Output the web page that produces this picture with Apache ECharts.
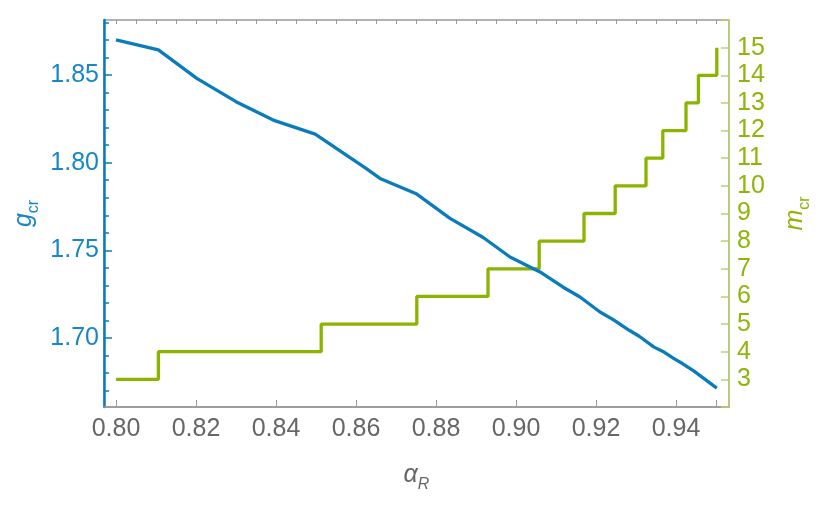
<!DOCTYPE html>
<html>
<head>
<meta charset="utf-8">
<script src="https://cdn.jsdelivr.net/npm/echarts@6/dist/echarts.min.js"></script>
<style>
  html, body { margin: 0; padding: 0; background: #fff; }
  #chart { width: 834px; height: 511px; }
</style>
</head>
<body>
<div id="chart"></div>
<script>
// g_cr curve (left axis)
const alphaG = [0.800, 0.8106, 0.8202, 0.830, 0.8393, 0.8498, 0.8625, 0.866, 0.8752, 0.8835, 0.8918,
  0.8985, 0.906, 0.9117, 0.916, 0.921, 0.9243, 0.9283, 0.9308, 0.9345, 0.937, 0.9395, 0.9417, 0.9445, 0.9502];
const gValues = [1.870, 1.8643, 1.8481, 1.8348, 1.8243, 1.8163, 1.7967, 1.791, 1.7821, 1.7682, 1.7573,
  1.7462, 1.7377, 1.7291, 1.7234, 1.7148, 1.7105, 1.7044, 1.701, 1.6948, 1.692, 1.6882, 1.6853, 1.6811, 1.6714];

// m_cr steps (right axis): alpha where m jumps up to the value
const alphaSteps = [0.800, 0.8106, 0.8513, 0.8752, 0.893, 0.9058, 0.917, 0.9248, 0.9325, 0.9367, 0.9425, 0.9456, 0.9502];
const mValues = [3, 4, 5, 6, 7, 8, 9, 10, 11, 12, 13, 14, 15];

// tick ranges
const xTickRange = [0.80, 0.95];
const gMajorRange = [1.70, 1.85];
const gMinorRange = [1.67, 1.88];
const mRange = [2, 16];

const BLUE = '#0a7cbb';
const BLUE_TXT = '#1787c6';
const GREEN = '#8ab400';
const GREEN_TXT = '#8fb40a';
const GREEN_AXIS = '#b9d26c';
const GRAY = '#999';
const FONT = 'Liberation Sans';
const W = 834, H = 511;

// frame in px, and px per unit of each scale
const FL = 104, FR = 729, FT = 20, FB = 407;
const X0 = 116, XPX = 4000;            // alpha 0.80 at X0
const G0 = 75, GPX = 263 / 0.15;       // g 1.85 at G0
const px = a => X0 + (a - 0.80) * XPX;
const py = g => G0 + (1.85 - g) * GPX;

const X_MIN = 0.80 - (X0 - FL) / XPX, X_MAX = 0.80 + (FR - X0) / XPX;
const G_MIN = 1.85 - (FB - G0) / GPX, G_MAX = 1.85 + (G0 - FT) / GPX;

const chart = echarts.init(document.getElementById('chart'));

const nameRich = (color) => ({
  i: { fontFamily: FONT, fontSize: 25, fontStyle: 'italic', color: color, verticalAlign: 'bottom', padding: [0, 0, 5, 0] },
  s: { fontFamily: FONT, fontSize: 16, color: color, verticalAlign: 'bottom' },
  si: { fontFamily: FONT, fontSize: 16, fontStyle: 'italic', color: color, verticalAlign: 'bottom' }
});

const hiddenX = (grid) => ({ type: 'value', gridIndex: grid, show: false, min: 0, max: 1 });
const hiddenY = (grid) => ({ type: 'value', gridIndex: grid, show: false, min: 0, max: 1 });

const option = {
  animation: false,
  grid: [
    { left: FL, right: W - FR, top: FT, bottom: H - FB, show: true, borderColor: GRAY, borderWidth: 1.5 },
    { left: px(xTickRange[0]), right: W - px(xTickRange[1]), top: FT, bottom: H - FB },
    { left: FL, right: W - FR, top: py(gMajorRange[1]), bottom: H - py(gMajorRange[0]) },
    { left: FL, right: W - FR, top: py(gMinorRange[1]), bottom: H - py(gMinorRange[0]) }
  ],
  xAxis: [
    {
      type: 'value', gridIndex: 0, min: X_MIN, max: X_MAX,
      name: '{i|α}{si|R}', nameLocation: 'middle', nameGap: 56,
      nameTextStyle: { rich: nameRich('#666') },
      axisLine: { show: true, lineStyle: { color: GRAY, width: 1.5 } },
      axisTick: { show: false }, axisLabel: { show: false }, splitLine: { show: false }
    },
    {
      type: 'value', gridIndex: 1, min: xTickRange[0], max: xTickRange[1], interval: 0.02,
      axisLine: { show: false },
      axisTick: { show: true, inside: true, length: 7, lineStyle: { color: GRAY } },
      axisLabel: {
        color: '#666', fontFamily: FONT, fontSize: 25, margin: 10,
        formatter: v => (Math.round(v * 1000) % 20 === 0 ? v.toFixed(2) : '')
      },
      splitLine: { show: false }
    },
    {
      type: 'value', gridIndex: 1, min: xTickRange[0], max: xTickRange[1], interval: 0.005,
      axisLine: { show: false },
      axisTick: { show: true, inside: true, length: 4, lineStyle: { color: GRAY } },
      axisLabel: { show: false }, splitLine: { show: false }
    },
    hiddenX(2),
    hiddenX(3)
  ],
  yAxis: [
    {
      type: 'value', gridIndex: 0, min: G_MIN, max: G_MAX, position: 'left',
      name: '{i|g}{s|cr}', nameLocation: 'middle', nameGap: 62,
      nameTextStyle: { rich: nameRich(BLUE_TXT) },
      axisLine: { show: true, lineStyle: { color: BLUE, width: 2.5 } },
      axisTick: { show: false }, axisLabel: { show: false }, splitLine: { show: false }
    },
    {
      type: 'value', gridIndex: 0, min: mRange[0], max: mRange[1], interval: 1, position: 'right',
      name: '{i|m}{s|cr}', nameLocation: 'middle', nameGap: 54,
      nameTextStyle: { rich: nameRich(GREEN_TXT) },
      axisLine: { show: true, lineStyle: { color: GREEN_AXIS, width: 1.5 } },
      axisTick: { show: true, inside: true, length: 8, lineStyle: { color: GREEN_AXIS, width: 1.5 } },
      axisLabel: {
        color: GREEN_TXT, fontFamily: FONT, fontSize: 25, margin: 8,
        formatter: v => (v >= 3 && v <= 15 ? String(v) : '')
      },
      splitLine: { show: false }
    },
    hiddenY(1),
    {
      type: 'value', gridIndex: 2, min: gMajorRange[0], max: gMajorRange[1], interval: 0.05,
      axisLine: { show: false },
      axisTick: { show: true, inside: true, length: 8, lineStyle: { color: BLUE, width: 1.5 } },
      axisLabel: { color: BLUE_TXT, fontFamily: FONT, fontSize: 25, margin: 5, formatter: v => v.toFixed(2) },
      splitLine: { show: false }
    },
    {
      type: 'value', gridIndex: 3, min: gMinorRange[0], max: gMinorRange[1], interval: 0.01,
      axisLine: { show: false },
      axisTick: { show: true, inside: true, length: 5, lineStyle: { color: BLUE, width: 1.5 } },
      axisLabel: { show: false }, splitLine: { show: false }
    }
  ],
  series: [
    {
      type: 'line', xAxisIndex: 0, yAxisIndex: 0,
      data: alphaG.map((a, i) => [a, gValues[i]]),
      showSymbol: false, lineStyle: { color: BLUE, width: 3.3 }, z: 3
    },
    {
      type: 'line', xAxisIndex: 0, yAxisIndex: 1, step: 'end',
      data: alphaSteps.map((a, i) => [a, mValues[i]]),
      showSymbol: false, lineStyle: { color: GREEN, width: 3.3 }, z: 2
    }
  ]
};

chart.setOption(option);
</script>
</body>
</html>
